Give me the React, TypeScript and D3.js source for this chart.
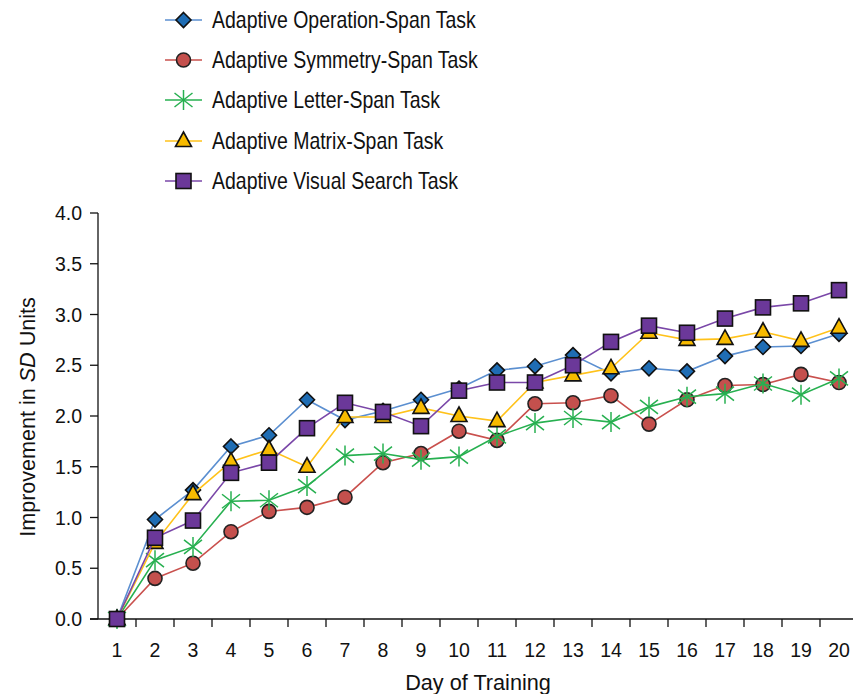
import React from "react";
import * as d3 from "d3";

const days = d3.range(1, 21);
const yTicks = [0, 0.5, 1, 1.5, 2, 2.5, 3, 3.5, 4];

const operationSpan = [0, 0.98, 1.27, 1.7, 1.81, 2.16, 1.96, 2.05, 2.16, 2.27, 2.45, 2.49, 2.6, 2.42, 2.47, 2.44, 2.59, 2.68, 2.69, 2.81];
const symmetrySpan = [0, 0.4, 0.55, 0.86, 1.06, 1.1, 1.2, 1.54, 1.63, 1.85, 1.76, 2.12, 2.13, 2.2, 1.92, 2.16, 2.3, 2.31, 2.41, 2.33];
const letterSpan = [0, 0.58, 0.71, 1.16, 1.17, 1.31, 1.61, 1.63, 1.57, 1.6, 1.8, 1.93, 1.98, 1.94, 2.09, 2.19, 2.22, 2.32, 2.21, 2.37];
const matrixSpan = [0, 0.75, 1.23, 1.55, 1.67, 1.5, 1.99, 1.99, 2.08, 2.0, 1.95, 2.33, 2.4, 2.47, 2.82, 2.75, 2.76, 2.83, 2.74, 2.87];
const visualSearch = [0, 0.8, 0.97, 1.44, 1.54, 1.88, 2.13, 2.04, 1.9, 2.25, 2.33, 2.33, 2.5, 2.73, 2.89, 2.82, 2.96, 3.07, 3.11, 3.24];

const seriesNames = [
  "Adaptive Operation-Span Task",
  "Adaptive Symmetry-Span Task",
  "Adaptive Letter-Span Task",
  "Adaptive Matrix-Span Task",
  "Adaptive Visual Search Task",
];

type Shape = "diamond" | "circle" | "star" | "triangle" | "square";
const series: { name: string; values: number[]; line: string; fill: string; shape: Shape }[] = [
  { name: seriesNames[0], values: operationSpan, line: "#5b8fd0", fill: "#1f6db4", shape: "diamond" },
  { name: seriesNames[1], values: symmetrySpan, line: "#c9504d", fill: "#c4504d", shape: "circle" },
  { name: seriesNames[2], values: letterSpan, line: "#27b050", fill: "none", shape: "star" },
  { name: seriesNames[3], values: matrixSpan, line: "#ffc21a", fill: "#f8bb00", shape: "triangle" },
  { name: seriesNames[4], values: visualSearch, line: "#7a47a8", fill: "#6b3899", shape: "square" },
];

const FONT = "'Liberation Sans', Arial, sans-serif";

function Marker({ shape, cx, cy, fill, line }: { shape: Shape; cx: number; cy: number; fill: string; line: string }) {
  const sw = 1.6;
  if (shape === "diamond") {
    const r = 7.5;
    return <path d={`M${cx},${cy - r}L${cx + r},${cy}L${cx},${cy + r}L${cx - r},${cy}Z`} fill={fill} stroke="#111" strokeWidth={sw} />;
  }
  if (shape === "circle") return <circle cx={cx} cy={cy} r={7} fill={fill} stroke="#222" strokeWidth={sw} />;
  if (shape === "square") return <rect x={cx - 7.5} y={cy - 7.5} width={15} height={15} fill={fill} stroke="#111" strokeWidth={sw} />;
  if (shape === "triangle") {
    return <path d={`M${cx},${cy - 9}L${cx + 8},${cy + 5.5}L${cx - 8},${cy + 5.5}Z`} fill={fill} stroke="#111" strokeWidth={sw} strokeLinejoin="miter" />;
  }
  return (
    <g stroke={line} strokeWidth={1.5} strokeLinecap="butt">
      <line x1={cx} y1={cy - 10} x2={cx} y2={cy + 10} />
      <line x1={cx - 9} y1={cy - 7} x2={cx + 9} y2={cy + 7} />
      <line x1={cx - 9} y1={cy + 7} x2={cx + 9} y2={cy - 7} />
    </g>
  );
}

function T({ x, y, sx = 1, size, anchor = "start", rotate = 0, children }: { x: number; y: number; sx?: number; size: number; anchor?: string; rotate?: number; children: React.ReactNode }) {
  return (
    <text transform={`translate(${x},${y}) rotate(${rotate}) scale(${sx},1)`} fontSize={size} textAnchor={anchor} fill="#111">
      {children}
    </text>
  );
}

export default function App() {
  const W = 853, H = 694;
  const x = d3.scaleBand<number>().domain(days).range([98, 858]).padding(0);
  const cxOf = (d: number) => (x(d) as number) + x.bandwidth() / 2;
  const y = d3.scaleLinear().domain([0, 4]).range([619, 213]);
  const lineGen = d3.line<number>().x((_, i) => cxOf(days[i])).y((v) => y(v));

  const legendRows = [20, 60, 100, 141, 181];

  return (
    <div style={{ position: "absolute", left: 0, top: 0 }}>
      <svg width={W} height={H} style={{ display: "block", background: "#fff" }} fontFamily={FONT}>
        {series.map((s, i) => {
          const ly = legendRows[i];
          return (
            <g key={s.name}>
              <line x1={165} x2={202} y1={ly} y2={ly} stroke={s.line} strokeWidth={1.5} />
              <Marker shape={s.shape} cx={183.5} cy={ly} fill={s.fill} line={s.line} />
              <T x={212} y={ly + 8.3} size={23} sx={0.847}>{s.name}</T>
            </g>
          );
        })}

        <line x1={98} x2={98} y1={y(4)} y2={y(0)} stroke="#111" strokeWidth={1.3} />
        {yTicks.map((t) => (
          <g key={t}>
            <line x1={90} x2={98} y1={y(t)} y2={y(t)} stroke="#111" strokeWidth={1.3} />
            <T x={82} y={y(t) + 7} size={19.5} anchor="end">{t.toFixed(1)}</T>
          </g>
        ))}

        <line x1={90} x2={W} y1={y(0)} y2={y(0)} stroke="#111" strokeWidth={1.3} />
        {days.map((d) => (
          <g key={d}>
            <line x1={(x(d) as number) + x.bandwidth()} x2={(x(d) as number) + x.bandwidth()} y1={y(0)} y2={y(0) + 8} stroke="#111" strokeWidth={1.3} />
            <T x={cxOf(d)} y={657} size={19.5} anchor="middle">{d}</T>
          </g>
        ))}

        <T x={478} y={690} size={22} sx={0.985} anchor="middle">Day of Training</T>
        <T x={35} y={417} size={22} sx={0.98} anchor="middle" rotate={-90}>
          Improvement in <tspan fontStyle="italic">SD</tspan> Units
        </T>

        {series.map((s) => (
          <g key={s.name}>
            <path d={lineGen(s.values) as string} fill="none" stroke={s.line} strokeWidth={1.6} />
            {s.values.map((v, i) => (
              <Marker key={i} shape={s.shape} cx={cxOf(days[i])} cy={y(v)} fill={s.fill} line={s.line} />
            ))}
          </g>
        ))}
      </svg>
    </div>
  );
}
